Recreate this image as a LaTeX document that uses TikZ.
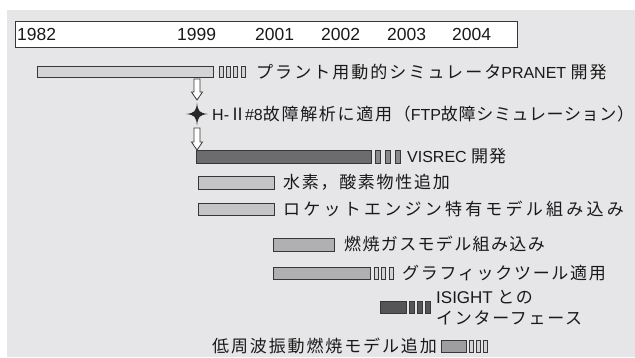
\documentclass[tikz,border=0pt]{standalone}
\usepackage{fontspec}
\setmainfont{Liberation Sans}
\newfontfamily\jpf{Noto Sans CJK JP}
\usetikzlibrary{calc}
\definecolor{bg}{RGB}{230,230,232}
\definecolor{edge}{RGB}{55,55,55}
\definecolor{txt}{RGB}{25,25,25}
\definecolor{barA}{RGB}{212,212,214}
\definecolor{barB}{RGB}{108,108,110}
\definecolor{barC}{RGB}{196,196,198}
\definecolor{barD}{RGB}{176,176,178}
\definecolor{barE}{RGB}{85,85,87}
\definecolor{barF}{RGB}{158,158,160}
\tikzset{
  tbar/.style={draw=edge, line width=0.8pt, inner sep=0pt, outer sep=0pt, anchor=north west},
  lbl/.style={anchor=west, inner sep=0pt, text=txt, font=\fontsize{16}{21}\selectfont},
  yr/.style={anchor=west, inner sep=0pt, text=txt, font=\fontsize{17.5}{18}\selectfont},
  harrow/.style={draw=edge, fill=white, line width=0.8pt, line join=miter},
}
% name, x, y, w, h, colour
\newcommand\tlbar[6]{\node[tbar, fill=#6, minimum width=#4pt, minimum height=#5pt] (#1) at (#2,#3) {};}
% prefix, x0, y, h, n, step, w, colour
\newcommand\tlticks[8]{\foreach \i in {1,...,#5}{\node[tbar, fill=#8, minimum width=#7pt, minimum height=#4pt] (#1\i) at ({#2+(\i-1)*#6},#3) {};}}
\newcommand\J[2][10]{{\jpf\fontsize{17}{21}\selectfont\addfontfeatures{LetterSpace=#1}#2}}
\begin{document}
\begin{tikzpicture}[x=1pt,y=-1pt]
\useasboundingbox (0,0) rectangle (635,357);
\fill[bg] (7,10) rectangle (635,357);
% year box
\node[draw=edge, fill=white, line width=0.8pt, minimum width=502pt, minimum height=26pt, anchor=north west, inner sep=0pt] (yearbox) at (15,21) {};
\node[yr] (y1982) at (17,34) {1982};
\node[yr] (y1999) at (177,34) {1999};
\node[yr] (y2001) at (255,34) {2001};
\node[yr] (y2002) at (321,34) {2002};
\node[yr] (y2003) at (387,34) {2003};
\node[yr] (y2004) at (452,34) {2004};
% PRANET
\tlbar{pranet}{37}{66}{176}{11}{barA}
\tlticks{pt}{219}{66}{11}{4}{7.3}{4}{barA}
\node[lbl] (lpranet) at (256,72) {\J[12]{プラント用動的シミュレータ}PRANET \J[12]{開発}};
% star
\coordinate (star) at (197,114);
\fill[edge!70!black] ($(star)+(11,0)$) .. controls ($(star)+(2.5,0.9)$) and ($(star)+(0.9,2.5)$) .. ($(star)+(0,11.5)$)
  .. controls ($(star)+(-0.9,2.5)$) and ($(star)+(-2.5,0.9)$) .. ($(star)+(-11,0)$)
  .. controls ($(star)+(-2.5,-0.9)$) and ($(star)+(-0.9,-2.5)$) .. ($(star)+(0,-11.5)$)
  .. controls ($(star)+(0.9,-2.5)$) and ($(star)+(2.5,-0.9)$) .. cycle;
\node[lbl] (lh2) at (212,114) {H-\J[0]{Ⅱ}\kern-1pt\#8\J[10]{故障解析に適用（}FTP\J[4]{故障シミュレーション）}};
% VISREC
\tlbar{visrec}{196}{150}{175}{13}{barB}
\tlticks{vt}{375}{150}{13}{3}{10}{5}{barB!80!white}
\node[lbl] (lvisrec) at (407,156) {VISREC \J[6]{開発}};
% arrows
\coordinate (a1s) at ($(star |- pranet.south)+(0,2)$);
\coordinate (a1t) at ($(star)+(0,-14)$);
\draw[harrow] ($(a1s)+(-3,0)$) -- ($(a1t)+(-3,-8)$) -- ($(a1t)+(-5.5,-8)$) -- (a1t) -- ($(a1t)+(5.5,-8)$) -- ($(a1t)+(3,-8)$) -- ($(a1s)+(3,0)$) -- cycle;
\coordinate (a2s) at ($(star)+(0,14)$);
\coordinate (a2t) at (star |- visrec.north);
\draw[harrow] ($(a2s)+(-3,0)$) -- ($(a2t)+(-3,-8)$) -- ($(a2t)+(-5.5,-8)$) -- (a2t) -- ($(a2t)+(5.5,-8)$) -- ($(a2t)+(3,-8)$) -- ($(a2s)+(3,0)$) -- cycle;
% hydrogen
\tlbar{hyd}{198}{176}{76}{13}{barC}
\node[lbl] (lhyd) at (283,182) {\J[10]{水素，酸素物性追加}};
\tlbar{rkt}{198}{203}{76}{12}{barC}
\node[lbl] (lrkt) at (283,209) {\J[19]{ロケットエンジン特有モデル組み込み}};
% combustion gas
\tlbar{gas}{273}{238}{61}{13}{barD}
\node[lbl] (lgas) at (344,244) {\J[8]{燃焼ガスモデル組み込み}};
% graphic
\tlbar{gra}{273}{267}{97}{12}{barD}
\tlticks{gt}{374}{267}{12}{3}{7.5}{4}{barA}
\node[lbl] (lgra) at (402,273) {\J[10]{グラフィックツール適用}};
% ISIGHT
\tlbar{isi}{380}{301}{26}{12}{barE}
\tlticks{it}{409}{301}{12}{3}{8}{5}{barE}
\node[lbl, align=left] (lisi) at (436,307.5) {{\fontsize{17}{21}\selectfont ISIGHT} \J[10]{との}\\\J[10]{インターフェース}};
% low frequency
\node[lbl] (llow) at (212,346) {\J[11]{低周波振動燃焼モデル追加}};
\tlbar{low}{441}{340}{25}{12}{barF}
\tlticks{lt}{469}{340}{12}{3}{7}{4}{barA}
\end{tikzpicture}
\end{document}
